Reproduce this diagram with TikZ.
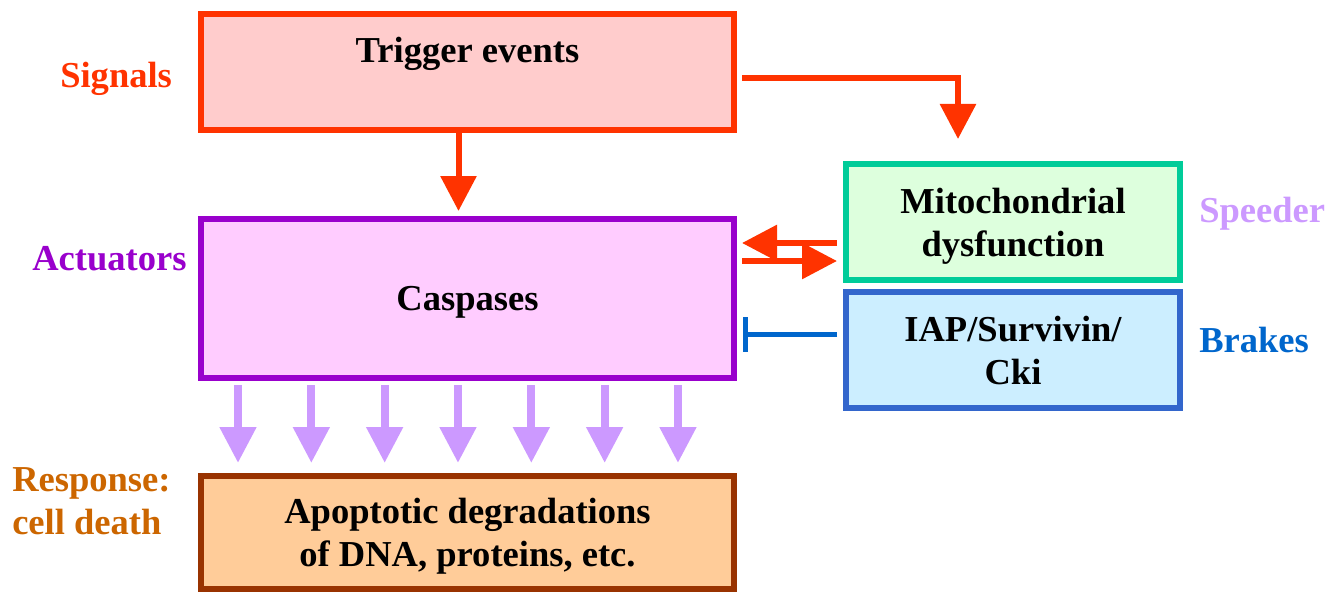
\documentclass[tikz,border=0pt]{standalone}
\usepackage{fontspec}
\setmainfont{Liberation Serif}
\usetikzlibrary{arrows.meta}

\definecolor{trigline}{HTML}{FF3300}
\definecolor{trigfill}{HTML}{FFCCCC}
\definecolor{caspline}{HTML}{9900CC}
\definecolor{caspfill}{HTML}{FFCCFF}
\definecolor{apopline}{HTML}{993300}
\definecolor{apopfill}{HTML}{FFCC99}
\definecolor{mitoline}{HTML}{00CC99}
\definecolor{mitofill}{HTML}{DDFFDD}
\definecolor{iapline}{HTML}{3366CC}
\definecolor{iapfill}{HTML}{CCEEFF}
\definecolor{brakeblue}{HTML}{0066CC}
\definecolor{speedlav}{HTML}{CC99FF}
\definecolor{respcol}{HTML}{CC6600}

\begin{document}
\begin{tikzpicture}[x=0.75pt,y=0.75pt,yscale=-1,xscale=1,
  box/.style={draw, line width=4.5pt, inner sep=0pt, align=center, text depth=0pt, minimum width=399.75pt, font=\bfseries\fontsize{27.4}{32.25}\selectfont},
  sidebox/.style={box, minimum width=250.5pt, minimum height=87pt},
  tag/.style={anchor=base west, inner sep=0pt, align=left, font=\bfseries\fontsize{27.4}{32.25}\selectfont},
  sig/.style={draw=trigline, line width=4.5pt, -{Triangle[width=26.25pt,length=26.25pt]}},
  brake/.style={draw=brakeblue, line width=3.75pt, -{Bar[width=26.25pt]}},
  fall/.style={draw=speedlav, line width=6pt, -{Triangle[width=26.25pt,length=27pt]}}]
\useasboundingbox (0,0) rectangle (1335,592);

%Shape: Rectangle [id:trig]
\node [box, draw=trigline, fill=trigfill, text height=36.75pt, text depth=50.25pt] (trig) at (467.5,72) {Trigger events};
%Shape: Rectangle [id:casp]
\node [box, draw=caspline, fill=caspfill, minimum height=119.25pt] (casp) at (467.5,298.5) {Caspases};
%Shape: Rectangle [id:apop]
\node [box, draw=apopline, fill=apopfill, minimum height=84.75pt] (apop) at (467.5,532.5) {Apoptotic degradations\\of DNA, proteins, etc.};
%Shape: Rectangle [id:mito]
\node [sidebox, draw=mitoline, fill=mitofill] (mito) at (1013,222) {Mitochondrial\\dysfunction};
%Shape: Rectangle [id:iap]
\node [sidebox, draw=iapline, fill=iapfill] (iap) at (1013,350) {IAP/Survivin/\\Cki};

% Text Node
\node [tag, text=trigline] (signals) at (60,88) {Signals};
% Text Node
\node [tag, text=caspline] (actuators) at (32,270) {Actuators};
% Text Node
\node [tag, text=speedlav] (speeder) at (1199,222) {Speeder};
% Text Node
\node [tag, text=brakeblue] (brakes) at (1199,352) {Brakes};
% Text Node
\node [tag, text=respcol] (response) at (12,534) {Response:\\cell death};

%Straight Lines
\coordinate (tc) at (458.5,0);
\coordinate (tm) at (958,78);
\coordinate (mc) at (0,243);
\coordinate (cm) at (0,261);
\coordinate (ic) at (0,334);
\draw [sig, shorten >=3.75pt] (trig.south -| tc) -- (casp.north -| tc);
\draw [sig, shorten <=3.75pt, shorten >=16.5pt] (trig.east |- tm) -- (tm) -- (mito.north -| tm);
\draw [sig, shorten <=4.5pt, shorten >=3.75pt] (mito.west |- mc) -- (casp.east |- mc);
\draw [sig, shorten <=3.75pt, shorten >=4.5pt] (casp.east |- cm) -- (mito.west |- cm);
\draw [brake, shorten <=4.5pt, shorten >=4.5pt] (iap.west |- ic) -- (casp.east |- ic);

%Arrows down to the response
\foreach \i in {0,...,6} {
  \coordinate (d\i) at (238+73.33*\i,0);
  \draw [fall, shorten <=3pt, shorten >=7.5pt] (casp.south -| d\i) -- (apop.north -| d\i);
}

\end{tikzpicture}
\end{document}
